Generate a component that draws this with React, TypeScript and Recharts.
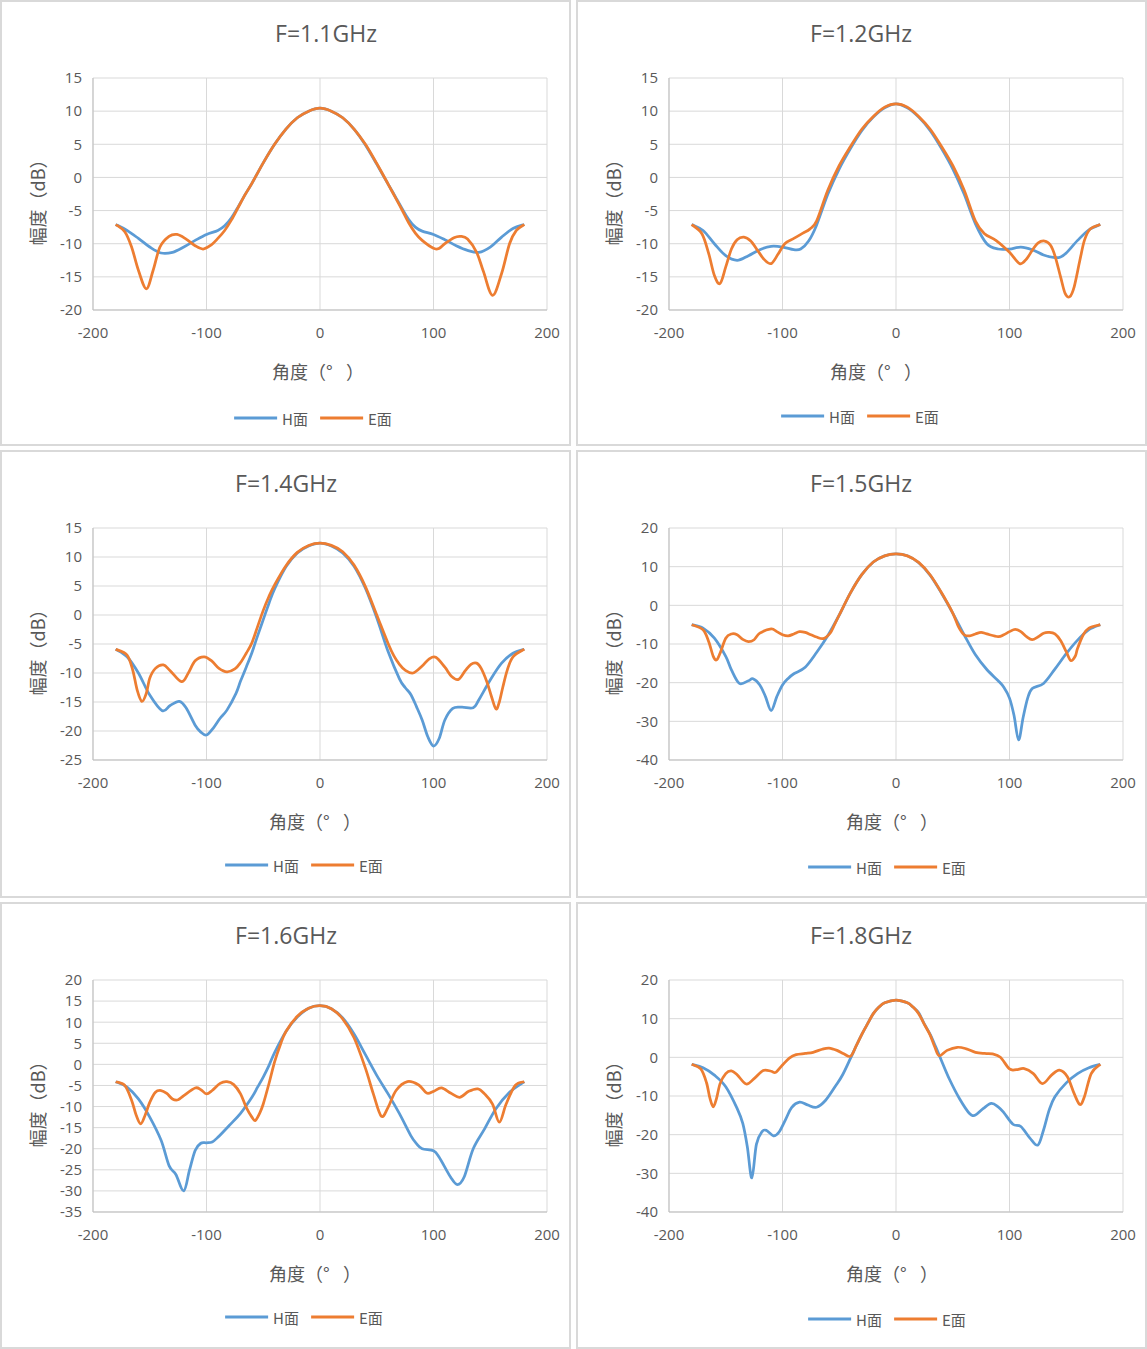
import React from 'react';
import { LineChart, Line, XAxis, YAxis, CartesianGrid } from 'recharts';

// angle (deg) / gain (dB) pairs
const H_11 = [
  [-180, -7.1], [-170, -8.0], [-160, -9.2], [-150, -10.5], [-140, -11.4], [-130, -11.3], [-120, -10.5],
  [-110, -9.5], [-100, -8.6], [-90, -8.0], [-84, -7.3], [-78, -6.1], [-72, -4.4], [-66, -2.6], [-60, -0.9],
  [-50, 2.2], [-40, 5.0], [-30, 7.3], [-20, 9.0], [-10, 10.0], [0, 10.45], [10, 10.0], [20, 9.0], [30, 7.3],
  [40, 4.9], [50, 2.0], [60, -1.0], [66, -2.8], [72, -4.6], [78, -6.3], [84, -7.5], [90, -8.1], [100, -8.6],
  [110, -9.4], [120, -10.3], [130, -11.0], [140, -11.3], [150, -10.5], [160, -9.0], [170, -7.7], [180, -7.1],
];
const E_11 = [
  [-180, -7.1], [-172, -8.2], [-166, -10.5], [-160, -14.0], [-153, -16.8], [-147, -14.0], [-141, -10.5],
  [-133, -8.9], [-126, -8.6], [-118, -9.3], [-110, -10.3], [-103, -10.8], [-96, -10.2], [-90, -9.2],
  [-84, -8.0], [-78, -6.4], [-72, -4.5], [-66, -2.6], [-60, -0.9], [-50, 2.2], [-40, 5.0], [-30, 7.3],
  [-20, 9.0], [-10, 10.0], [0, 10.45], [10, 10.0], [20, 9.0], [30, 7.3], [40, 5.0], [50, 2.1], [60, -1.0],
  [66, -2.9], [72, -4.8], [78, -6.8], [84, -8.4], [90, -9.5], [100, -10.7], [105, -10.7], [110, -10.0],
  [118, -9.1], [124, -8.9], [130, -9.3], [138, -11.3], [144, -14.2], [152, -17.8], [160, -14.5],
  [167, -10.0], [173, -8.0], [180, -7.1],
];

const H_12 = [
  [-180, -7.1], [-170, -8.0], [-160, -10.0], [-150, -11.8], [-140, -12.5], [-130, -11.8], [-120, -10.9],
  [-110, -10.4], [-100, -10.5], [-90, -10.9], [-84, -10.8], [-77, -9.6], [-70, -7.2], [-60, -2.5],
  [-50, 1.3], [-40, 4.4], [-30, 7.1], [-20, 9.1], [-10, 10.5], [0, 11.1], [10, 10.5], [20, 9.1],
  [30, 7.1], [40, 4.4], [50, 1.3], [60, -2.5], [70, -7.0], [80, -10.0], [90, -10.8], [100, -10.8],
  [110, -10.5], [120, -10.9], [130, -11.7], [140, -12.1], [145, -12.0], [150, -11.4], [160, -9.5],
  [170, -7.9], [180, -7.1],
];
const E_12 = [
  [-180, -7.1], [-171, -8.5], [-165, -11.5], [-160, -14.8], [-155, -16.0], [-150, -13.5], [-145, -10.8],
  [-140, -9.4], [-134, -9.0], [-128, -9.6], [-122, -11.0], [-116, -12.4], [-110, -13.0], [-104, -11.6],
  [-98, -10.0], [-90, -9.2], [-82, -8.4], [-76, -7.8], [-70, -6.6], [-60, -1.9], [-50, 1.8], [-40, 4.7],
  [-30, 7.3], [-20, 9.2], [-10, 10.6], [0, 11.1], [10, 10.6], [20, 9.2], [30, 7.3], [40, 4.7], [50, 1.8],
  [60, -1.9], [70, -6.6], [78, -8.5], [88, -9.5], [100, -11.3], [109, -13.0], [115, -12.3], [120, -11.0],
  [125, -9.9], [131, -9.6], [136, -10.2], [140, -11.8], [145, -15.0], [149, -17.5], [153, -18.0],
  [157, -16.5], [162, -12.5], [166, -9.5], [171, -7.8], [180, -7.1],
];

const H_14 = [
  [-180, -5.9], [-170, -7.2], [-160, -10.0], [-150, -13.8], [-139, -16.5], [-132, -15.6], [-124, -14.9],
  [-118, -16.0], [-110, -19.0], [-105, -20.2], [-100, -20.7], [-94, -19.5], [-88, -17.8], [-82, -16.4],
  [-74, -13.5], [-70, -11.4], [-65, -9.0], [-60, -6.5], [-55, -3.6], [-50, -0.8], [-45, 2.0], [-40, 4.5],
  [-30, 8.3], [-20, 10.7], [-10, 11.9], [0, 12.4], [10, 11.9], [20, 10.7], [30, 8.4], [40, 4.6], [50, -0.5],
  [60, -6.3], [70, -11.0], [75, -12.5], [80, -13.7], [85, -15.8], [90, -18.1], [95, -21.0], [100, -22.6],
  [105, -21.3], [110, -18.1], [117, -16.1], [125, -15.9], [135, -16.0], [140, -14.6], [150, -11.2],
  [160, -8.3], [170, -6.6], [180, -5.9],
];
const E_14 = [
  [-180, -5.9], [-170, -6.9], [-165, -9.5], [-161, -13.0], [-157, -14.9], [-153, -13.5], [-150, -10.9],
  [-145, -9.2], [-138, -8.6], [-132, -9.6], [-122, -11.5], [-116, -10.0], [-110, -7.9], [-102, -7.2],
  [-95, -8.0], [-89, -9.2], [-82, -9.8], [-75, -9.3], [-70, -8.2], [-65, -6.6], [-60, -4.8], [-55, -2.0],
  [-50, 0.8], [-45, 3.2], [-40, 5.2], [-30, 8.5], [-20, 10.8], [-10, 12.0], [0, 12.4], [10, 12.0],
  [20, 10.9], [30, 8.6], [40, 4.9], [50, 0.0], [60, -4.9], [65, -7.0], [70, -8.5], [75, -9.5], [82, -10.0],
  [90, -8.8], [96, -7.6], [102, -7.3], [110, -9.0], [116, -10.6], [122, -11.1], [128, -9.6], [133, -8.5],
  [138, -8.3], [142, -9.2], [147, -11.5], [151, -14.0], [155, -16.2], [158, -15.0], [161, -12.5],
  [165, -9.5], [170, -7.2], [180, -5.9],
];

const H_15 = [
  [-180, -5.0], [-170, -5.9], [-160, -8.5], [-150, -13.2], [-145, -16.7], [-138, -20.2], [-130, -19.5],
  [-126, -19.0], [-120, -20.6], [-115, -23.6], [-110, -27.2], [-105, -23.6], [-100, -20.6], [-95, -18.9],
  [-90, -17.7], [-80, -16.0], [-70, -12.2], [-60, -7.8], [-50, -2.5], [-40, 3.3], [-30, 8.0], [-20, 11.2],
  [-10, 12.8], [0, 13.3], [10, 12.8], [20, 11.0], [30, 7.8], [40, 3.2], [50, -2.0], [60, -7.6],
  [70, -12.8], [80, -16.6], [90, -19.5], [95, -21.2], [100, -24.0], [104, -28.5], [108, -34.8],
  [112, -29.0], [116, -24.0], [120, -21.5], [130, -20.2], [140, -16.5], [150, -12.5], [160, -9.0],
  [170, -6.3], [180, -5.0],
];
const E_15 = [
  [-180, -5.0], [-170, -6.3], [-165, -9.4], [-161, -13.2], [-158, -14.1], [-155, -12.4], [-150, -8.5],
  [-145, -7.4], [-140, -7.6], [-135, -8.8], [-130, -9.4], [-125, -8.9], [-120, -7.2], [-110, -6.1],
  [-105, -6.8], [-100, -7.6], [-95, -7.9], [-90, -7.4], [-85, -6.8], [-80, -7.0], [-75, -7.6], [-70, -8.2],
  [-64, -8.6], [-58, -7.2], [-55, -5.5], [-50, -2.5], [-40, 3.3], [-30, 8.0], [-20, 11.2], [-10, 12.8],
  [0, 13.3], [10, 12.8], [20, 11.1], [30, 7.9], [40, 3.3], [50, -2.0], [55, -5.5], [60, -7.6], [65, -7.9],
  [70, -7.4], [75, -7.0], [80, -7.4], [90, -8.1], [95, -7.6], [100, -6.8], [105, -6.2], [110, -6.8],
  [115, -8.1], [120, -8.9], [125, -8.2], [130, -7.2], [135, -7.0], [140, -7.4], [145, -9.1], [150, -12.0],
  [154, -14.3], [158, -13.1], [160, -11.1], [165, -7.6], [170, -5.9], [180, -5.0],
];

const H_16 = [
  [-180, -4.1], [-170, -5.4], [-160, -8.2], [-150, -12.5], [-140, -18.0], [-133, -24.0], [-127, -26.1],
  [-120, -30.0], [-115, -25.1], [-110, -20.4], [-105, -18.7], [-100, -18.6], [-95, -18.4], [-90, -17.3],
  [-80, -14.5], [-70, -11.6], [-60, -7.8], [-55, -5.4], [-50, -3.0], [-45, -0.3], [-40, 2.8], [-30, 7.8],
  [-20, 11.2], [-10, 13.3], [0, 13.9], [10, 13.2], [20, 11.0], [30, 7.2], [40, 2.3], [50, -2.6],
  [60, -7.0], [70, -11.7], [80, -16.9], [85, -18.8], [90, -20.0], [100, -20.5], [105, -22.0],
  [115, -26.7], [121, -28.5], [127, -26.7], [135, -20.0], [145, -15.3], [155, -10.5], [167, -6.6],
  [180, -4.1],
];
const E_16 = [
  [-180, -4.1], [-172, -5.0], [-166, -8.5], [-162, -12.0], [-158, -14.1], [-154, -12.0], [-150, -9.0],
  [-145, -6.6], [-140, -6.2], [-135, -6.9], [-130, -8.2], [-125, -8.4], [-120, -7.4], [-110, -5.6],
  [-105, -6.0], [-100, -7.0], [-95, -6.2], [-88, -4.5], [-82, -4.1], [-76, -4.8], [-70, -7.0], [-65, -10.2],
  [-60, -12.5], [-57, -13.3], [-53, -11.5], [-50, -9.4], [-45, -4.6], [-40, 0.6], [-35, 4.6], [-30, 7.8],
  [-20, 11.4], [-10, 13.3], [0, 13.9], [10, 13.2], [20, 10.8], [30, 6.3], [40, -0.9], [47, -7.0],
  [54, -12.3], [60, -10.2], [67, -6.2], [77, -4.1], [87, -4.9], [94, -6.8], [100, -6.4], [107, -5.6],
  [115, -6.8], [123, -7.8], [131, -6.4], [139, -5.8], [145, -7.0], [152, -9.4], [158, -13.7], [164, -9.4],
  [172, -5.0], [180, -4.1],
];

const H_18 = [
  [-180, -1.8], [-170, -2.7], [-160, -4.6], [-150, -7.6], [-140, -13.2], [-135, -17.1], [-131, -23.1],
  [-127, -31.2], [-123, -22.5], [-118, -19.2], [-114, -18.9], [-108, -20.3], [-103, -19.3], [-97, -15.9],
  [-92, -13.0], [-85, -11.6], [-78, -12.3], [-70, -12.9], [-62, -11.1], [-53, -7.3], [-47, -4.5],
  [-40, -0.2], [-35, 3.0], [-30, 6.0], [-25, 8.7], [-20, 11.3], [-15, 13.0], [-10, 14.1], [0, 14.8],
  [10, 14.1], [15, 13.0], [20, 11.5], [25, 8.6], [30, 6.0], [35, 2.7], [40, -0.8], [47, -5.6],
  [56, -10.7], [65, -14.6], [70, -14.9], [77, -13.2], [84, -11.9], [90, -12.8], [95, -14.3], [103, -17.3],
  [110, -17.9], [118, -20.9], [125, -22.7], [130, -18.8], [135, -13.6], [140, -10.2], [150, -6.6],
  [160, -4.2], [170, -2.7], [180, -1.8],
];
const E_18 = [
  [-180, -1.8], [-172, -3.0], [-167, -6.5], [-164, -10.5], [-161, -12.8], [-158, -10.5], [-155, -6.8],
  [-150, -4.2], [-145, -3.5], [-140, -4.5], [-132, -6.9], [-125, -5.5], [-117, -3.4], [-110, -3.6],
  [-106, -3.9], [-100, -2.0], [-94, -0.2], [-88, 0.7], [-80, 1.0], [-73, 1.3], [-65, 2.1], [-59, 2.4],
  [-52, 1.8], [-46, 0.9], [-40, 0.3], [-35, 3.0], [-30, 6.0], [-25, 8.7], [-20, 11.3], [-15, 13.0],
  [-10, 14.1], [0, 14.8], [10, 14.1], [15, 13.0], [20, 11.3], [25, 8.5], [30, 5.8], [34, 2.8], [38, 0.4],
  [45, 1.8], [54, 2.6], [62, 2.2], [70, 1.3], [78, 1.0], [85, 0.9], [92, 0.0], [100, -3.0], [106, -3.2],
  [113, -2.9], [121, -4.2], [129, -6.8], [137, -4.6], [144, -3.3], [151, -5.0], [157, -9.4], [162, -12.2],
  [166, -10.2], [172, -4.2], [180, -1.8],
];

const TITLES = ['F=1.1GHz', 'F=1.2GHz', 'F=1.4GHz', 'F=1.5GHz', 'F=1.6GHz', 'F=1.8GHz'];
const H_SERIES = [H_11, H_12, H_14, H_15, H_16, H_18];
const E_SERIES = [E_11, E_12, E_14, E_15, E_16, E_18];
const Y_DOMAINS = [[-20, 15], [-20, 15], [-25, 15], [-40, 20], [-35, 20], [-40, 20]];
const Y_TICKS = [
  [-20, -15, -10, -5, 0, 5, 10, 15],
  [-20, -15, -10, -5, 0, 5, 10, 15],
  [-25, -20, -15, -10, -5, 0, 5, 10, 15],
  [-40, -30, -20, -10, 0, 10, 20],
  [-35, -30, -25, -20, -15, -10, -5, 0, 5, 10, 15, 20],
  [-40, -30, -20, -10, 0, 10, 20],
];
const X_TICKS = [-200, -100, 0, 100, 200];
const SERIES_NAMES = ['H面', 'E面'];

// where each panel and its labels sit
const LAYOUT = [
  { left: 0, top: 0, h: 446, titleX: 326, xTitleX: 318, legendX: 313, legendY: 418 },
  { left: 576, top: 0, h: 446, titleX: 285, xTitleX: 300, legendX: 284, legendY: 416 },
  { left: 0, top: 450, h: 448, titleX: 286, xTitleX: 315, legendX: 304, legendY: 415 },
  { left: 576, top: 450, h: 448, titleX: 285, xTitleX: 316, legendX: 311, legendY: 417 },
  { left: 0, top: 902, h: 447, titleX: 286, xTitleX: 315, legendX: 304, legendY: 415 },
  { left: 576, top: 902, h: 447, titleX: 285, xTitleX: 316, legendX: 311, legendY: 417 },
];

const FONT = "'Open Sans', 'Noto Sans CJK SC', sans-serif";
const CJK = "'Noto Sans CJK SC', 'Open Sans', sans-serif";
const TEXT = '#595959';
const BLUE = '#5b9bd5';
const ORANGE = '#ed7d31';
const W = 571;

const toPoints = (pairs: number[][]) => pairs.map(([deg, db]) => ({ deg, db }));

// spreadsheet-style smoothed line: bezier with catmull-rom tangents (1/6 rule)
function smoothCurve(context: any) {
  let pts: number[][] = [];
  return {
    areaStart() {},
    areaEnd() {},
    lineStart() {
      pts = [];
    },
    point(x: number, y: number) {
      pts.push([+x, +y]);
    },
    lineEnd() {
      const n = pts.length;
      if (!n) return;
      context.moveTo(pts[0][0], pts[0][1]);
      for (let k = 0; k < n - 1; k++) {
        const p0 = pts[Math.max(0, k - 1)];
        const p1 = pts[k];
        const p2 = pts[k + 1];
        const p3 = pts[Math.min(n - 1, k + 2)];
        context.bezierCurveTo(
          p1[0] + (p2[0] - p0[0]) / 6,
          p1[1] + (p2[1] - p0[1]) / 6,
          p2[0] - (p3[0] - p1[0]) / 6,
          p2[1] - (p3[1] - p1[1]) / 6,
          p2[0],
          p2[1],
        );
      }
    },
  };
}

function centered(x: number, y: number, extra: React.CSSProperties = {}): React.CSSProperties {
  return {
    position: 'absolute',
    left: x,
    top: y,
    transform: 'translate(-50%, -50%)',
    whiteSpace: 'nowrap',
    color: TEXT,
    ...extra,
  };
}

function Panel({ i }: { i: number }) {
  const lay = LAYOUT[i];
  const bottom = lay.h - 310;
  return (
    <div style={{ position: 'absolute', left: lay.left, top: lay.top, width: W, height: lay.h, background: '#fff' }}>
      <div style={{ position: 'absolute', inset: 0, border: '2px solid #d9d9d9', boxSizing: 'border-box' }} />
      <div style={centered(lay.titleX, 33, { fontFamily: FONT, fontSize: 23 })}>{TITLES[i]}</div>
      <div style={{ position: 'absolute', left: 0, top: 0 }}>
        <LineChart width={W} height={lay.h} margin={{ top: 78, right: 24, bottom: bottom - 30, left: 0 }}>
          <CartesianGrid stroke="#d9d9d9" strokeWidth={1} />
          <XAxis
            type="number"
            dataKey="deg"
            domain={[-200, 200]}
            ticks={X_TICKS}
            height={30}
            tickSize={0}
            tickMargin={17}
            stroke="#bfbfbf"
            tick={{ fill: TEXT, fontSize: 15, fontFamily: FONT }}
            allowDataOverflow
          />
          <YAxis
            type="number"
            domain={Y_DOMAINS[i]}
            ticks={Y_TICKS[i]}
            width={93}
            tickSize={0}
            tickMargin={11}
            stroke="#bfbfbf"
            tick={{ fill: TEXT, fontSize: 15, fontFamily: FONT }}
            interval={0}
            allowDataOverflow
          />
          <Line
            data={toPoints(H_SERIES[i])}
            dataKey="db"
            name={SERIES_NAMES[0]}
            type={smoothCurve as any}
            stroke={BLUE}
            strokeWidth={2.75}
            dot={false}
            isAnimationActive={false}
          />
          <Line
            data={toPoints(E_SERIES[i])}
            dataKey="db"
            name={SERIES_NAMES[1]}
            type={smoothCurve as any}
            stroke={ORANGE}
            strokeWidth={2.75}
            dot={false}
            isAnimationActive={false}
          />
        </LineChart>
      </div>
      <div style={centered(37, 198, { fontFamily: CJK, fontSize: 18, transform: 'translate(-50%, -50%) rotate(-90deg)' })}>
        幅度（dB）
      </div>
      <div style={centered(lay.xTitleX, 371, { fontFamily: CJK, fontSize: 18 })}>
        角度（<span style={{ display: 'inline-block', width: '1.1em' }}>°</span>）
      </div>
      <div style={centered(lay.legendX, lay.legendY, { display: 'flex', alignItems: 'center', fontFamily: CJK, fontSize: 15 })}>
        {SERIES_NAMES.map((name, k) => (
          <div key={name} style={{ display: 'flex', alignItems: 'center', marginLeft: k === 0 ? 0 : 12 }}>
            <span style={{ display: 'inline-block', width: 43, height: 3, background: k === 0 ? BLUE : ORANGE, marginRight: 5 }} />
            <span>{name}</span>
          </div>
        ))}
      </div>
    </div>
  );
}

export default function App() {
  return (
    <div style={{ position: 'absolute', left: 0, top: 0, width: 1147, height: 1349, background: '#fff' }}>
      {LAYOUT.map((_, i) => (
        <Panel key={i} i={i} />
      ))}
    </div>
  );
}
